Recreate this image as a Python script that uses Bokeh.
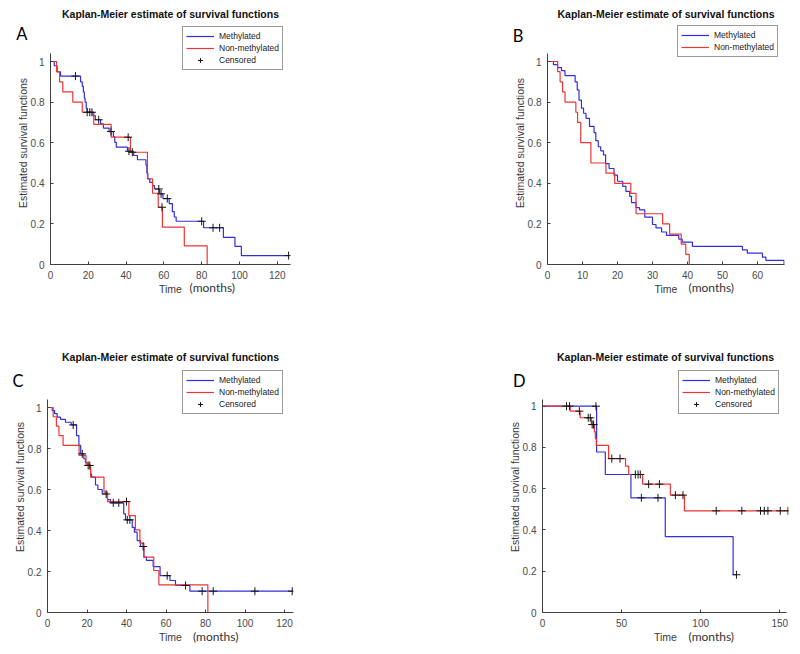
import numpy as np
from bokeh.plotting import figure
from bokeh.models import Legend, LegendItem, FixedTicker, Range1d, LinearAxis
from bokeh.layouts import column, row
from bokeh.embed import file_html
from bokeh.resources import INLINE

# ---------------- texts ----------------
TITLE = "Kaplan-Meier estimate of survival functions"
Y_LABEL = "Estimated survival functions"
X_LABEL = "Time"
X_UNIT = "(months)"
SERIES = ["Methylated", "Non-methylated", "Censored"]
Y_TICKS = [0, 0.2, 0.4, 0.6, 0.8, 1]

# ---------------- panel A ----------------
A_X_TICKS = [0, 20, 40, 60, 80, 100, 120]
a_meth_t = [0, 2.0, 3.5, 5.3, 15.9, 16.8, 17.4, 17.9, 18.3, 18.9, 19.4, 22.5, 23.7, 26.5, 28.0, 31.0, 33.3, 34.0, 34.8,
            40.7, 44.0, 46.0, 50.5, 51.0, 51.5, 52.5, 54.0, 55.0, 57.7, 59.5, 62.8, 64.5, 65.5, 66.5, 81.0, 91.5, 97.6,
            101.0, 126.0]
a_meth_s = [1.0, 0.979, 0.949, 0.928, 0.900, 0.877, 0.850, 0.820, 0.800, 0.770, 0.750, 0.733, 0.713, 0.693, 0.672,
            0.655, 0.630, 0.602, 0.578, 0.558, 0.537, 0.516, 0.490, 0.450, 0.422, 0.405, 0.389, 0.372, 0.348, 0.325,
            0.300, 0.260, 0.234, 0.213, 0.181, 0.134, 0.089, 0.044, 0.044]
a_meth_cens = [13.2, 20.8, 21.9, 25.5, 32.0, 41.5, 57.3, 58.5, 61.8, 80.0, 86.0, 89.5, 126.0]
a_non_t = [0, 3.2, 4.8, 6.5, 11.8, 16.8, 22.9, 32.1, 42.3, 51.3, 54.0, 57.0, 59.2, 70.8, 82.9]
a_non_s = [1.0, 0.95, 0.90, 0.85, 0.80, 0.75, 0.69, 0.627, 0.553, 0.422, 0.351, 0.282, 0.184, 0.092, 0.0]
a_non_cens = [19.4, 41.1, 43.3, 59.0]

# ---------------- panel B ----------------
B_X_TICKS = [0, 10, 20, 30, 40, 50, 60]
b_meth_t = [0, 1.7, 2.9, 4.0, 5.0, 7.9, 8.5, 9.0, 9.7, 10.3, 11.0, 12.0, 13.3, 13.8, 14.5, 15.2, 16.0, 16.6, 17.6,
            19.0, 20.0, 21.5, 22.4, 23.5, 24.0, 25.3, 26.3, 27.8, 30.0, 31.0, 32.6, 34.0, 37.5, 38.5, 41.4, 55.7, 57.1,
            61.4, 62.4, 67.6]
b_meth_s = [1.0, 0.985, 0.97, 0.955, 0.93, 0.90, 0.86, 0.81, 0.77, 0.745, 0.72, 0.68, 0.65, 0.61, 0.58, 0.56, 0.54,
            0.497, 0.473, 0.44, 0.41, 0.385, 0.36, 0.336, 0.305, 0.28, 0.269, 0.233, 0.197, 0.18, 0.16, 0.143, 0.125,
            0.11, 0.089, 0.072, 0.056, 0.036, 0.02, 0.0]
b_meth_cens = []
b_non_t = [0, 2.9, 3.6, 4.3, 5.0, 8.1, 8.6, 9.5, 12.4, 16.7, 19.2, 23.8, 25.3, 32.9, 34.9, 38.2, 39.5, 40.5]
b_non_s = [1.0, 0.95, 0.90, 0.85, 0.80, 0.75, 0.70, 0.60, 0.50, 0.45, 0.40, 0.35, 0.25, 0.20, 0.15, 0.10, 0.05, 0.0]
b_non_cens = []

# ---------------- panel C ----------------
C_X_TICKS = [0, 20, 40, 60, 80, 100, 120]
c_meth_t = [0, 2.4, 3.6, 4.9, 6.6, 9.1, 12.0, 14.7, 15.9, 16.8, 18.4, 19.2, 20.0, 21.8, 22.3, 24.3, 25.5, 27.7, 30.3,
            31.9, 38.6, 39.5, 42.9, 44.0, 45.4, 47.1, 48.8, 50.1, 53.5, 57.0, 62.0, 64.8, 72.1, 123.9]
c_meth_s = [1.0, 0.985, 0.97, 0.953, 0.942, 0.928, 0.915, 0.863, 0.815, 0.774, 0.75, 0.733, 0.717, 0.676, 0.66, 0.622,
            0.60, 0.578, 0.551, 0.535, 0.481, 0.452, 0.415, 0.392, 0.351, 0.322, 0.27, 0.254, 0.224, 0.18, 0.156,
            0.132, 0.104, 0.104]
c_meth_cens = [13.0, 17.6, 20.6, 21.4, 29.7, 33.3, 36.1, 40.4, 41.7, 48.4, 60.6, 69.9, 78.3, 83.9, 105.0, 123.9]
c_non_t = [0, 2.9, 4.5, 5.8, 7.9, 16.0, 19.5, 21.8, 28.6, 30.4, 41.2, 44.5, 46.8, 48.8, 53.8, 56.4, 81.2]
c_non_s = [1.0, 0.955, 0.909, 0.863, 0.815, 0.766, 0.72, 0.66, 0.587, 0.541, 0.473, 0.403, 0.338, 0.27, 0.205, 0.135,
           0.0]
c_non_cens = [40.0]

# ---------------- panel D ----------------
D_X_TICKS = [0, 50, 100, 150]
d_meth_t = [0, 34.2, 39.7, 55.9, 77.6, 120.5, 122.6]
d_meth_s = [1.0, 0.778, 0.669, 0.556, 0.368, 0.183, 0.183]
d_meth_cens = [15.2, 33.8, 62.5, 73.0, 122.6]
d_non_t = [0, 17.5, 23.8, 30.9, 32.8, 33.4, 34.0, 41.8, 52.5, 54.5, 63.3, 80.8, 89.7, 155.5]
d_non_s = [1.0, 0.976, 0.944, 0.911, 0.876, 0.843, 0.81, 0.746, 0.71, 0.669, 0.622, 0.569, 0.493, 0.493]
d_non_cens = [17.1, 23.3, 28.9, 30.2, 31.4, 32.3, 43.8, 49.0, 58.7, 60.4, 61.8, 67.1, 73.9, 84.0, 88.8, 109.8, 126.0,
              137.8, 140.2, 142.5, 150.3, 155.2]

# ---------------- styles ----------------
BLUE = "#3030e0"
RED = "#ee3535"
CROSS = "#151515"
AXIS = "#404040"
TICK_TEXT = "#4a4a4a"
LABEL_TEXT = "#3a3a3a"
FONT = "Liberation Sans"
ROUND_FONT = "Lato"
FIG_W, FIG_H = 400, 327

# layout geometry in pixels inside each figure (x from left, y from top)
GEO_A = dict(left=50, right=110, top=21, bottom=63, xpx=1.8898, ypx=203.0, xend=127, ytop=1.04, legend=(132, 194),
             title_standoff=4, letter_y=33.6, letter_standoff=-14, months_x=211.8, months_standoff=-18)
GEO_B = dict(left=147, right=16, top=21, bottom=63, xpx=3.5, ypx=203.0, xend=67.7, ytop=1.04, legend=(130, 207),
             title_standoff=4, letter_y=35.3, letter_standoff=-13, months_x=310.8, months_standoff=-18)
GEO_C = dict(left=47, right=107, top=34, bottom=42, xpx=1.975, ypx=205.0, xend=124.56, ytop=1.039, legend=(135, 198),
             title_standoff=-2, letter_y=53.3, letter_standoff=-13, months_x=215.2, months_standoff=-17)
GEO_D = dict(left=142, right=12, top=34, bottom=42, xpx=1.582, ypx=206.3, xend=154.5, ytop=1.0325, legend=(136, 198),
             title_standoff=-2, letter_y=53.3, letter_standoff=-20, months_x=310.8, months_standoff=-17)


def step_value(t, s, c):
    idx = np.searchsorted(np.asarray(t, float), np.asarray(c, float), side="right") - 1
    return np.asarray(s, float)[idx]


def tick_text_axis(p, side, tick, text, font, size, color, standoff):
    ax = LinearAxis(ticker=FixedTicker(ticks=[tick], minor_ticks=[]), bounds=(tick - 0.001, tick + 0.001),
                    major_label_overrides={tick: text}, axis_line_color=None, major_tick_line_color=None,
                    minor_tick_line_color=None, major_tick_in=0, major_tick_out=0, minor_tick_in=0,
                    minor_tick_out=0, major_label_standoff=standoff, major_label_text_font=font,
                    major_label_text_font_size=size, major_label_text_color=color)
    p.add_layout(ax, side)
    return ax


def make_panel(letter, x_ticks, mt, ms, mc, nt, ns, nc, g, with_censored):
    fw = FIG_W - g["left"] - g["right"]
    fh = FIG_H - g["top"] - g["bottom"]
    fb = FIG_H - g["bottom"]

    p = figure(width=FIG_W, height=FIG_H, x_range=Range1d(0, fw / g["xpx"]), y_range=Range1d(0, fh / g["ypx"]),
               output_backend="svg", toolbar_location=None, title=TITLE,
               min_border_left=g["left"], min_border_right=g["right"], min_border_top=g["top"],
               min_border_bottom=g["bottom"])
    p.outline_line_color = None
    p.grid.visible = False
    p.background_fill_color = "white"
    p.border_fill_color = "white"
    p.title.align = "center"
    p.title.vertical_align = "bottom"
    p.title.text_font = FONT
    p.title.text_font_style = "bold"
    p.title.text_font_size = "10.5px"
    p.title.text_color = "#111111"
    p.title.standoff = g["title_standoff"]

    xa, ya = p.below[0], p.left[0]
    for ax in (xa, ya):
        ax.axis_line_color = AXIS
        ax.axis_line_width = 1
        ax.major_tick_line_color = AXIS
        ax.major_tick_in = 3
        ax.major_tick_out = 0
        ax.minor_tick_line_color = None
        ax.major_label_text_font = FONT
        ax.major_label_text_font_size = "10px"
        ax.major_label_text_color = TICK_TEXT
        ax.major_label_standoff = 6
        ax.axis_label_text_font = FONT
        ax.axis_label_text_font_size = "10.5px"
        ax.axis_label_text_font_style = "normal"
        ax.axis_label_text_color = LABEL_TEXT
    xa.ticker = FixedTicker(ticks=x_ticks, minor_ticks=[])
    ya.ticker = FixedTicker(ticks=Y_TICKS, minor_ticks=[])
    ya.major_label_overrides = {0: "0", 1: "1"}
    xa.bounds = (0, g["xend"])
    ya.bounds = (0, g["ytop"])
    xa.axis_label = X_LABEL
    ya.axis_label = Y_LABEL
    xa.axis_label_standoff = 1
    ya.axis_label_standoff = -1

    rm = p.step(x=mt, y=ms, mode="after", line_color=BLUE, line_width=1.2)
    rn = p.step(x=nt, y=ns, mode="after", line_color=RED, line_width=1.2)
    rc = []
    for ct, st, ss in ((mc, mt, ms), (nc, nt, ns)):
        if len(ct):
            rc.append(p.scatter(x=ct, y=step_value(st, ss, ct), marker="cross", size=8,
                                line_color=CROSS, line_width=1))

    items = [LegendItem(label=SERIES[0], renderers=[rm]),
             LegendItem(label=SERIES[1], renderers=[rn])]
    if with_censored and rc:
        items.append(LegendItem(label=SERIES[2], renderers=[rc[0]]))
    leg = Legend(items=items, location=g["legend"], orientation="vertical",
                 label_text_font=FONT, label_text_font_size="8.5px", label_text_color="#1a1a1a",
                 glyph_width=28, glyph_height=12, label_height=12, spacing=0, padding=3,
                 label_standoff=5, margin=0, border_line_color="#333333", border_line_width=1,
                 background_fill_color="white", background_fill_alpha=1)
    p.add_layout(leg)

    # panel letter, left of the y axis, and the unit next to the x-axis label
    tick_text_axis(p, "left", (fb - g["letter_y"]) / g["ypx"], letter, ROUND_FONT, "16.5px", "black",
                   g["letter_standoff"])
    tick_text_axis(p, "below", (g["months_x"] - g["left"]) / g["xpx"], X_UNIT, ROUND_FONT, "12px", "#333333",
                   g["months_standoff"])
    return p


pa = make_panel("A", A_X_TICKS, a_meth_t, a_meth_s, a_meth_cens, a_non_t, a_non_s, a_non_cens, GEO_A, True)
pb = make_panel("B", B_X_TICKS, b_meth_t, b_meth_s, b_meth_cens, b_non_t, b_non_s, b_non_cens, GEO_B, False)
pc = make_panel("C", C_X_TICKS, c_meth_t, c_meth_s, c_meth_cens, c_non_t, c_non_s, c_non_cens, GEO_C, True)
pd_ = make_panel("D", D_X_TICKS, d_meth_t, d_meth_s, d_meth_cens, d_non_t, d_non_s, d_non_cens, GEO_D, True)

layout = column(row(pa, pb), row(pc, pd_))
open("out.html", "w").write(file_html(layout, INLINE))
